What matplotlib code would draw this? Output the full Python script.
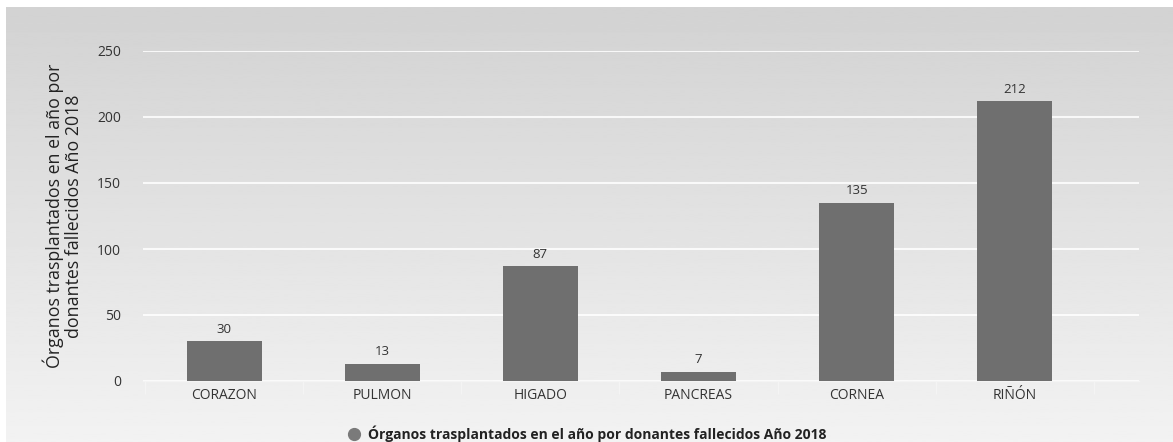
import numpy as np
import matplotlib
matplotlib.use("Agg")
import matplotlib.pyplot as plt
from matplotlib.lines import Line2D

plt.rcParams['font.family'] = ['Open Sans', 'DejaVu Sans']

# Data
organos = ['CORAZON', 'PULMON', 'HIGADO', 'PANCREAS', 'CORNEA', 'RIÑÓN']
trasplantes = [30, 13, 87, 7, 135, 212]
serie = 'Órganos trasplantados en el año por donantes fallecidos Año 2018'
ylabel = 'Órganos trasplantados en el año por\ndonantes fallecidos Año 2018'

W, H = 1173, 442
fig = plt.figure(figsize=(W / 100, H / 100), dpi=100)
fig.patch.set_facecolor('white')

# gradient background
bg = fig.add_axes([6 / W, 0, 1 - 6 / W, 1 - 7 / H])
grad = np.linspace(0.825, 0.95, 256).reshape(-1, 1)
bg.imshow(grad, aspect='auto', cmap='gray', vmin=0, vmax=1, extent=[0, 1, 1, 0])
bg.set_axis_off()

ax = fig.add_axes([143 / W, 1 - 381 / H, (1139 - 143) / W, (381 - 51) / H])
ax.patch.set_alpha(0)

x = np.arange(len(organos))
bars = ax.bar(x, trasplantes, width=0.475, color='#6f6f6f', zorder=3)
for b, v in zip(bars, trasplantes):
    ax.annotate(str(v), (b.get_x() + b.get_width() / 2, v), xytext=(0, 4),
                textcoords='offset points', ha='center', va='bottom',
                fontsize=9.5, color='#333333')

ax.set_xlim(-0.513, 5.785)
ax.set_ylim(0, 250)
ax.set_yticks([0, 50, 100, 150, 200, 250])
ax.yaxis.grid(True, color='white', linewidth=1.2, zorder=0)
ax.set_axisbelow(True)

for s in ['top', 'right', 'left']:
    ax.spines[s].set_visible(False)
ax.spines['bottom'].set_color('#f4f4f4')
ax.spines['bottom'].set_linewidth(1)

ax.set_xticks(x)
ax.set_xticklabels(organos, fontsize=10, color='#333333')
ax.set_xticks(np.arange(len(organos) + 1) - 0.5, minor=True)
ax.tick_params(axis='x', which='major', length=0, pad=5)
ax.tick_params(axis='x', which='minor', length=9, color='#f4f4f4', width=1)
ax.tick_params(axis='y', length=0, pad=16, labelsize=10, labelcolor='#333333')

ax.set_ylabel(ylabel, fontsize=12.8, color='#222222', linespacing=1.1)
ax.yaxis.set_label_coords(-60 / (1139 - 143), 0.5)

handle = Line2D([], [], marker='o', linestyle='none', markersize=8.5,
                markerfacecolor='#7a7a7a', markeredgecolor='#7a7a7a')
fig.legend([handle], [serie], loc='center', bbox_to_anchor=(0.5, 1 - 434 / H),
           frameon=False, handletextpad=0.5, handlelength=1.0,
           prop={'size': 10, 'weight': 'bold'}, labelcolor='#222222')

fig.savefig('out.png', dpi=100)
